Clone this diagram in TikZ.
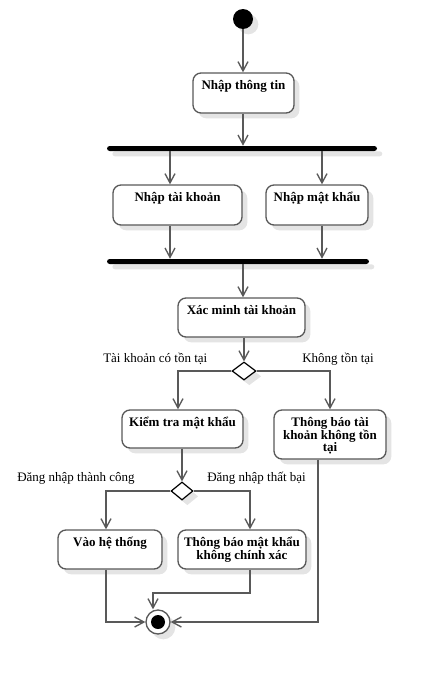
\documentclass[tikz,border=0pt]{standalone}
\usepackage{fontspec}
\setmainfont{Liberation Serif}
\usetikzlibrary{arrows.meta,shapes.geometric,shadows,fit}
\definecolor{lc}{HTML}{595959}
\definecolor{shc}{HTML}{E4E4E4}
\newcommand\mytightlines{\lineskiplimit=-6pt\relax\lineskip=0pt\relax}
\begin{document}
\begin{tikzpicture}[x=0.75pt,y=-0.75pt,
  shd/.style={drop shadow={shadow xshift=4pt,shadow yshift=-4pt,fill=shc,opacity=1}},
  act/.style={draw=lc,line width=1pt,rounded corners=6pt,fill=white,inner sep=0pt,shd},
  bar/.style={fill=black,rounded corners=2pt,inner sep=0pt,shd},
  btxt/.style={font=\bfseries\fontsize{9.75pt}{9.4pt}\selectfont\mytightlines,align=center,inner sep=0pt,anchor=base},
  lbl/.style={font=\fontsize{9.75pt}{11pt}\selectfont,inner sep=0pt,anchor=base west},
  dec/.style={diamond,draw=black,line width=0.9pt,fill=white,inner sep=0pt,shd},
  flow/.style={draw=lc,line width=1pt,-{Straight Barb[length=7pt,width=7.5pt,line width=1pt]}}
]
\useasboundingbox (0,0) rectangle (448,675);
% start
\node[circle,fill=black,minimum size=15pt,inner sep=0pt,shd] (s) at (243,19) {};
% activities
\node[act,fit={(193,73) (294,113)}] (n1) {};
\node[act,fit={(113,185) (242,225)}] (n2) {};
\node[act,fit={(266,185) (368,225)}] (n3) {};
\node[act,fit={(178,298) (305,337)}] (n4) {};
\node[act,fit={(122,410) (243,448)}] (n5) {};
\node[act,fit={(274,410) (386,459)}] (n6) {};
\node[act,fit={(58,530) (162,569)}] (n7) {};
\node[act,fit={(178,530) (306,569)}] (n8) {};
\node[btxt] (t1) at ([yshift=-13pt]n1.north) {Nhập thông tin};
\node[btxt] (t2) at ([yshift=-13pt]n2.north) {Nhập tài khoản};
\node[btxt] (t3) at ([yshift=-13pt]n3.north) {Nhập mật khẩu};
\node[btxt] (t4) at ([yshift=-13pt]n4.north) {Xác minh tài khoản};
\node[btxt] (t5) at ([yshift=-13pt]n5.north) {Kiểm tra mật khẩu};
\node[btxt] (t6) at ([yshift=-31.8pt]n6.north) {Thông báo tài\\khoản không tồn\\tại};
\node[btxt] (t7) at ([yshift=-13pt]n7.north) {Vào hệ thống};
\node[btxt] (t8) at ([yshift=-22.4pt]n8.north) {Thông báo mật khẩu\\không chính xác};
% bars
\node[bar,fit={(107,146) (377,151)}] (b1) {};
\node[bar,fit={(107,259) (369,264)}] (b2) {};
% decisions
\node[dec,minimum width=18pt,minimum height=13.5pt] (d1) at (244,371) {};
\node[dec,minimum width=16.5pt,minimum height=13.5pt] (d2) at (182,491) {};
% final
\node[circle,draw=lc,line width=1pt,fill=white,minimum size=18pt,inner sep=0pt,shd] (f) at (158,622) {};
\node[circle,fill=black,minimum size=10.5pt,inner sep=0pt] (fi) at (f.center) {};
% labels
\node[lbl] (l1) at (103,362) {Tài khoản có tồn tại};
\node[lbl] (l2) at (302,362) {Không tồn tại};
\node[lbl] (l3) at (17,481) {Đăng nhập thành công};
\node[lbl] (l4) at (207,481) {Đăng nhập thất bại};
% helper coordinates
\coordinate (x170) at (170,0);
\coordinate (x322) at (322,0);
\coordinate (x243) at (243,0);
\coordinate (x178) at (178,0);
\coordinate (x106) at (106,0);
\coordinate (x250) at (250,0);
\coordinate (x318) at (318,0);
\coordinate (m1) at (250,593);
% connectors
\draw[flow] (s.south) -- (n1.north -| s.south);
\draw[flow] (n1.south -| x243) -- (b1.north -| x243);
\draw[flow] (b1.south -| x170) -- (n2.north -| x170);
\draw[flow] (b1.south -| x322) -- (n3.north -| x322);
\draw[flow] (n2.south -| x170) -- (b2.north -| x170);
\draw[flow] (n3.south -| x322) -- (b2.north -| x322);
\draw[flow] (b2.south -| x243) -- (n4.north -| x243);
\draw[flow] (n4.south -| d1.north) -- (d1.north);
\draw[flow] (d1.west) -| (n5.north -| x178);
\draw[flow] (d1.east) -| (n6.north);
\draw[flow] (n5.south -| d2.north) -- (d2.north);
\draw[flow] (d2.west) -| (n7.north -| x106);
\draw[flow] (d2.east) -| (n8.north -| x250);
\draw[flow] (n7.south -| x106) |- (f.west);
\draw[flow] (n8.south -| m1) -- (m1) -| ([xshift=-3.75pt]f.north);
\draw[flow] (n6.south -| x318) |- (f.east);
\end{tikzpicture}
\end{document}
